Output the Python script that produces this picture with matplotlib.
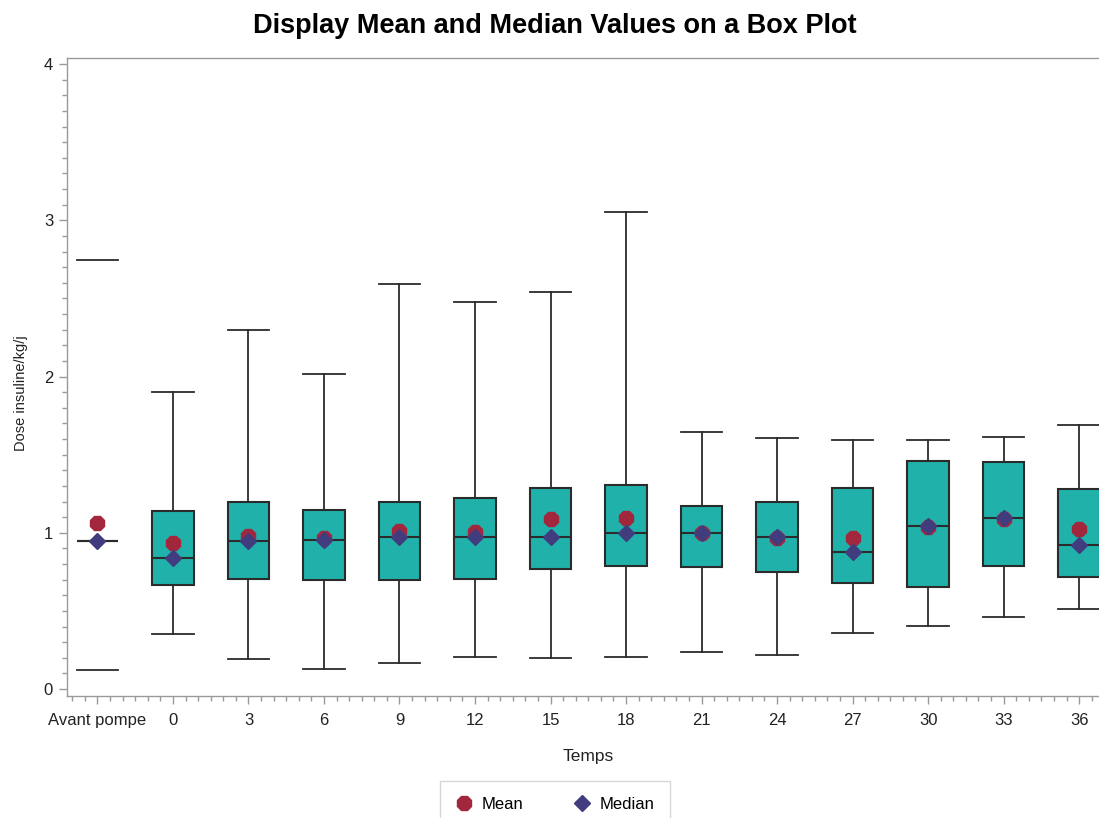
import matplotlib
matplotlib.use("Agg")
import matplotlib.pyplot as plt
from matplotlib.ticker import MultipleLocator, FixedLocator
from matplotlib.lines import Line2D

# ---- data ----
tick_labels = ["Avant pompe", "0", "3", "6", "9", "12", "15", "18", "21", "24", "27", "30", "33", "36"]
positions = [-3, 0, 3, 6, 9, 12, 15, 18, 21, 24, 27, 30, 33, 36]
whis_low = [0.12, 0.352, 0.192, 0.128, 0.166, 0.205, 0.198, 0.205, 0.237, 0.218, 0.358, 0.403, 0.461, 0.512]
q1 = [0.947, 0.663, 0.706, 0.699, 0.699, 0.702, 0.770, 0.787, 0.779, 0.750, 0.680, 0.655, 0.787, 0.717]
median = [0.947, 0.840, 0.945, 0.953, 0.971, 0.971, 0.971, 0.998, 0.998, 0.971, 0.875, 1.041, 1.094, 0.919]
q3 = [0.947, 1.139, 1.198, 1.145, 1.198, 1.224, 1.286, 1.303, 1.173, 1.198, 1.284, 1.461, 1.452, 1.278]
whis_high = [2.745, 1.902, 2.297, 2.017, 2.593, 2.480, 2.542, 3.050, 1.644, 1.606, 1.593, 1.593, 1.612, 1.689]
mean = [1.062, 0.932, 0.979, 0.964, 1.013, 1.006, 1.086, 1.094, 0.998, 0.964, 0.964, 1.035, 1.088, 1.026]

W, H = 1099, 818
fig = plt.figure(figsize=(W / 100, H / 100), dpi=100)
plt.rcParams['font.family'] = ['Liberation Sans', 'DejaVu Sans']

left_px, right_px, top_px, bot_px = 67, 1109, 58, 696
ax = fig.add_axes([left_px / W, (H - bot_px) / H, (right_px - left_px) / W, (bot_px - top_px) / H])

box_color = "#20B2AA"
edge_color = "#2b2b2b"
mean_color = "#A2263C"
med_color = "#403C7E"
axis_gray = "#9a9a9a"

stats = []
for i in range(len(positions)):
    stats.append(dict(label=tick_labels[i], whislo=whis_low[i], q1=q1[i], med=median[i],
                      q3=q3[i], whishi=whis_high[i], fliers=[]))

bw = 1.65
line_kw = dict(color=edge_color, linewidth=1.3)
# regular boxes
ax.bxp(stats[1:], positions=positions[1:], widths=bw, patch_artist=True, showfliers=False,
       boxprops=dict(facecolor=box_color, edgecolor=edge_color, linewidth=1.5),
       medianprops=dict(color=edge_color, linewidth=1.5),
       whiskerprops=line_kw, capprops=line_kw, capwidths=bw,
       manage_ticks=False, zorder=2)
# "Avant pompe": degenerate box without whisker stems
ax.bxp(stats[:1], positions=positions[:1], widths=bw, patch_artist=True, showfliers=False,
       boxprops=dict(facecolor=box_color, edgecolor=edge_color, linewidth=1.5),
       medianprops=dict(color=edge_color, linewidth=1.5),
       whiskerprops=dict(linestyle='none'), capprops=line_kw, capwidths=bw,
       manage_ticks=False, zorder=2)

ax.plot(positions, mean, linestyle='none', marker='8', markersize=11.5, color=mean_color,
        markeredgecolor=mean_color, zorder=4, label="Mean")
ax.plot(positions, median, linestyle='none', marker='D', markersize=8, color=med_color,
        markeredgecolor=med_color, zorder=5, label="Median")

# axes scales
y_per_px = 1 / 156.25
ax.set_ylim(-7 * y_per_px, 4 + 6 * y_per_px)
ax.set_xlim(-4.21, -4.21 + (right_px - left_px) / 25.17)

ax.xaxis.set_major_locator(FixedLocator(positions))
ax.set_xticklabels(tick_labels)
ax.xaxis.set_minor_locator(MultipleLocator(0.5))
ax.yaxis.set_major_locator(MultipleLocator(1))
ax.yaxis.set_minor_locator(MultipleLocator(0.1))

for s in ['left', 'top', 'bottom', 'right']:
    ax.spines[s].set_color(axis_gray)
    ax.spines[s].set_linewidth(1.0)

ax.tick_params(axis='both', which='major', length=6, width=1, color=axis_gray,
               labelsize=12, labelcolor='#222222', pad=4)
ax.tick_params(axis='x', which='major', pad=6)
ax.tick_params(axis='both', which='minor', length=3.5, width=1, color=axis_gray)

ax.set_xlabel("Temps", fontsize=12.5, color='#222222', labelpad=15)
ax.set_ylabel("Dose insuline/kg/j", fontsize=10.5, color='#222222')
ax.yaxis.set_label_coords(-0.0375, 0.475)

fig.suptitle("Display Mean and Median Values on a Box Plot", x=555 / W, y=1 - 26 / H,
             va='center', fontsize=19.5, fontweight='bold', color='#000000')

leg = fig.legend(handles=[Line2D([], [], linestyle='none', marker='8', markersize=11.5, color=mean_color),
                          Line2D([], [], linestyle='none', marker='D', markersize=8, color=med_color)],
                 labels=["Mean", "Median"], ncol=2, loc='upper center',
                 bbox_to_anchor=(555 / W, 1 - 781 / H), borderaxespad=0.0, frameon=True, fontsize=12,
                 borderpad=0.95, handlelength=1.0, handletextpad=0.55, columnspacing=3.0,
                 fancybox=False, edgecolor='#cccccc')
leg.get_frame().set_linewidth(1.0)

fig.savefig("out.png", dpi=100)
